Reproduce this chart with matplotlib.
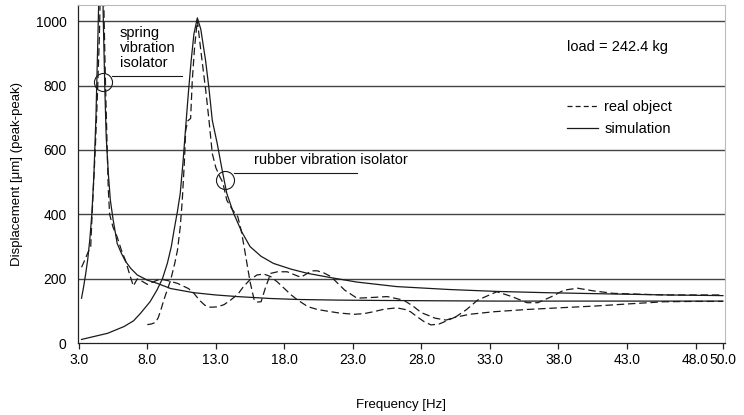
import matplotlib
matplotlib.use("Agg")
import matplotlib.pyplot as plt
from matplotlib.lines import Line2D

plt.rcParams['font.family'] = ['Liberation Sans', 'DejaVu Sans']

# ---- data ----
spring_sim_x = [3.2, 3.35, 3.5, 3.65, 3.8, 3.95, 4.1, 4.25, 4.4, 4.5, 4.6, 4.7, 4.8, 4.9, 5.0, 5.15,
                5.3, 5.5, 5.8, 6.1, 6.4, 6.8, 7.27, 8.0, 8.73, 9.7, 11.4, 13.0, 14.57, 17.0, 19.0,
                22.0, 25.0, 29.0, 33.5, 40.0, 45.0, 50.0]
spring_sim_y = [140, 175, 215, 260, 320, 400, 520, 700, 960, 1150, 1300, 1200, 980, 790, 640, 530,
                445, 385, 310, 280, 255, 232, 212, 196, 186, 170, 157, 150, 145, 139, 136,
                134, 133, 132, 131, 131, 131, 131]

spring_real_x = [3.2, 3.4, 3.6, 3.8, 3.87, 3.95, 4.05, 4.2, 4.35, 4.5, 4.6, 4.72, 4.85, 4.95, 5.05,
                 5.15, 5.25, 5.5, 5.8, 6.1, 6.4, 6.7, 6.98, 7.27, 7.6, 8.0, 8.4, 8.73, 9.1, 9.46,
                 10.2, 11.0, 11.4, 11.8, 12.2, 12.6, 13.1, 13.6, 14.1, 14.6, 15.0, 15.5, 16.0,
                 16.5, 17.0, 17.5, 18.0, 18.5, 18.95, 19.7, 20.4, 21.1, 22.0, 23.1, 23.8, 24.5,
                 25.3, 26.2, 26.8, 27.2, 27.7, 28.2, 28.7, 29.3, 30.4, 31.5, 33.3, 35.7, 38.0,
                 40.8, 43.0, 45.7, 48.0, 50.0]
spring_real_y = [236, 255, 275, 295, 300, 380, 470, 600, 760, 950, 1150, 1300, 1000, 800, 640,
                 480, 400, 360, 330, 290, 258, 215, 178, 200, 193, 183, 190, 196, 198, 195,
                 186, 170, 155, 134, 118, 112, 113, 120, 135, 152, 175, 198, 212,
                 215, 207, 190, 170, 150, 135, 114, 105, 100, 94, 90, 92, 98,
                 106, 110, 105, 98, 82, 67, 57, 60, 80, 90, 98, 105, 110,
                 116, 122, 129, 130, 130]

rubber_sim_x = [3.2, 4.0, 5.1, 6.3, 7.0, 7.5, 8.2, 8.7, 9.1, 9.46, 9.75, 9.95, 10.2, 10.4, 10.6,
                10.8, 11.0, 11.2, 11.4, 11.65, 11.9, 12.25, 12.5, 12.74, 13.1, 13.45, 13.8, 14.3,
                14.9, 15.5, 16.3, 17.2, 18.5, 19.7, 21.5, 23.3, 26.2, 30.0, 33.5, 37.2, 42.0,
                46.0, 50.0]
rubber_sim_y = [12, 20, 31, 52, 70, 93, 129, 165, 200, 248, 300, 351, 410, 465, 560,
                672, 780, 878, 960, 1010, 975, 878, 790, 692, 620, 540, 465, 403,
                345, 300, 270, 248, 230, 217, 203, 190, 176, 167, 161, 157, 153,
                150, 148]

rubber_real_x = [8.0, 8.3, 8.6, 8.8, 9.0, 9.2, 9.45, 9.7, 10.0, 10.2, 10.4, 10.55, 10.7, 10.8,
                 10.95, 11.16, 11.28, 11.45, 11.65, 11.9, 12.1, 12.25, 12.5, 12.74, 13.0, 13.3,
                 13.5, 13.8, 14.2, 14.6, 14.85, 15.06, 15.3, 15.5, 15.8, 16.0, 16.3, 16.6, 17.0,
                 17.5, 18.2, 18.6, 19.2, 19.6, 20.0, 20.4, 20.9, 21.4, 22.4, 23.3, 24.3, 25.5,
                 26.7, 27.4, 28.0, 29.0, 29.8, 30.5, 31.3, 32.1, 33.5, 34.6, 35.7, 36.5, 37.5,
                 38.4, 39.4, 40.5, 42.0, 45.7, 50.0]
rubber_real_y = [58, 60, 65, 80, 105, 134, 165, 196, 248, 289, 360, 444, 560, 661,
                 690, 698, 816, 920, 1002, 910, 840, 790, 692, 589, 545, 516,
                 500, 444, 415, 393, 350, 300, 240, 190, 134, 128, 129, 170, 217,
                 222, 222, 215, 205, 215, 225, 225, 218, 207, 165, 140, 142, 145,
                 134, 115, 95, 78, 72, 82, 105, 134, 160, 145, 126, 126, 145,
                 165, 171, 163, 155, 150, 150]

x_ticks = [3.0, 8.0, 13.0, 18.0, 23.0, 28.0, 33.0, 38.0, 43.0, 48.0, 50.0]
x_tick_labels = ["3.0", "8.0", "13.0", "18.0", "23.0", "28.0", "33.0", "38.0", "43.0", "48.0", "50.0"]
y_ticks = [0, 200, 400, 600, 800, 1000]

# ---- figure ----
fig = plt.figure(figsize=(7.44, 4.15), dpi=100)
ax = fig.add_axes([77.7 / 744, 1 - 343.3 / 415, (725 - 77.7) / 744, (343.3 - 5) / 415])

ink = '#1a1a1a'
dash = (6, 3)
ax.plot(spring_sim_x, spring_sim_y, color=ink, lw=0.9)
ax.plot(rubber_sim_x, rubber_sim_y, color=ink, lw=0.9)
ax.plot(spring_real_x, spring_real_y, color=ink, lw=0.9, dashes=dash)
ax.plot(rubber_real_x, rubber_real_y, color=ink, lw=0.9, dashes=dash)

ax.set_xlim(2.92, 50.15)
ax.set_ylim(0, 1050)
ax.set_xticks(x_ticks)
ax.set_xticklabels(x_tick_labels)
ax.set_yticks(y_ticks)
ax.tick_params(axis='x', direction='out', length=4, width=0.9, color='#222', labelsize=10, pad=3)
ax.tick_params(axis='y', length=0, labelsize=10, pad=8)

for yv in y_ticks[1:]:
    ax.axhline(yv, color='#444444', lw=1.0, zorder=0)

ax.spines['left'].set_color('#222')
ax.spines['left'].set_linewidth(0.9)
ax.spines['bottom'].set_color('#222')
ax.spines['bottom'].set_linewidth(0.9)
ax.spines['top'].set_color('#bbbbbb')
ax.spines['right'].set_color('#bbbbbb')

ax.set_xlabel("Frequency [Hz]", fontsize=9.5, labelpad=23)
ax.set_ylabel("Displacement [\u03bcm] (peak-peak)", fontsize=9.5, labelpad=9)

# annotations
fs = 10.5
ax.plot([4.77], [811], marker='o', ms=13, mfc='none', mec=ink, mew=0.8, clip_on=False)
ax.plot([5.43, 10.55], [831, 831], color=ink, lw=0.8)
ax.text(6.0, 916, "spring\nvibration\nisolator", fontsize=fs, ha='left', va='center', linespacing=1.1)

ax.plot([13.68], [507], marker='o', ms=13, mfc='none', mec=ink, mew=0.8)
ax.plot([14.3, 23.3], [528, 528], color=ink, lw=0.8)
ax.text(15.79, 568, "rubber vibration isolator", fontsize=fs, ha='left', va='center')

ax.text(38.6, 920, "load = 242.4 kg", fontsize=fs, ha='left', va='center')

handles = [Line2D([], [], color=ink, lw=0.9, dashes=(4, 2.5)),
           Line2D([], [], color=ink, lw=0.9)]
ax.legend(handles, ["real object", "simulation"], loc='upper left', bbox_to_anchor=(0.756, 0.718),
          frameon=False, fontsize=fs, handlelength=2.1, handletextpad=0.45, labelspacing=0.5,
          borderpad=0, borderaxespad=0)

fig.savefig("out.png", dpi=100)
